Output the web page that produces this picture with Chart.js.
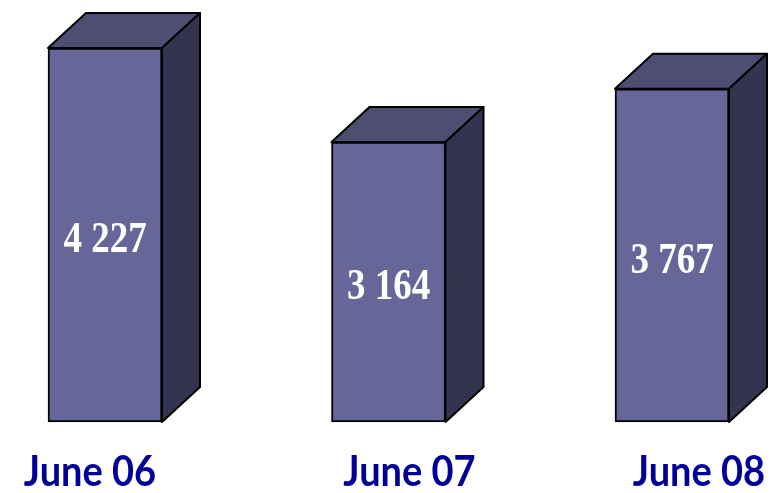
<!DOCTYPE html>
<html>
<head>
<meta charset="utf-8">
<script src="https://cdn.jsdelivr.net/npm/chart.js@4.4.1/dist/chart.umd.min.js"></script>
<style>
  html, body { margin: 0; padding: 0; background: #ffffff; }
  #wrap { width: 774px; height: 493px; position: relative; }
</style>
</head>
<body>
<div id="wrap"><canvas id="chart"></canvas></div>
<script>
// data
const months = ["June 06", "June 07", "June 08"];
const counts = [4227, 3164, 3767];
const countLabels = ["4 227", "3 164", "3 767"];

// 3D look
const FRONT = "#666699";
const TOP = "#4e4e72";
const SIDE = "#343451";
const DEPTH_X = 38;
const DEPTH_Y = 35;
// month captions are not quite centred under the boxes in the original
const captionShift = [-15, 21, 27];

const boxPlugin = {
  id: "box3d",
  afterDatasetsDraw(chart) {
    const ctx = chart.ctx;
    const meta = chart.getDatasetMeta(0);
    const xScale = chart.scales.x;
    ctx.save();
    ctx.lineWidth = 2;
    ctx.strokeStyle = "#000000";
    ctx.lineJoin = "round";
    meta.data.forEach((bar, i) => {
      const left = bar.x - bar.width / 2;
      const right = bar.x + bar.width / 2;
      const top = bar.y;
      const base = bar.base;

      // top face
      ctx.beginPath();
      ctx.moveTo(left, top);
      ctx.lineTo(left + DEPTH_X, top - DEPTH_Y);
      ctx.lineTo(right + DEPTH_X, top - DEPTH_Y);
      ctx.lineTo(right, top);
      ctx.closePath();
      ctx.fillStyle = TOP;
      ctx.fill();
      ctx.stroke();

      // side face
      ctx.beginPath();
      ctx.moveTo(right, top);
      ctx.lineTo(right + DEPTH_X, top - DEPTH_Y);
      ctx.lineTo(right + DEPTH_X, base - DEPTH_Y);
      ctx.lineTo(right, base);
      ctx.closePath();
      ctx.fillStyle = SIDE;
      ctx.fill();
      ctx.stroke();

      // value label, slightly tall serif
      ctx.save();
      ctx.translate(bar.x, (top + base) / 2 + 6);
      ctx.scale(1, 1.18);
      ctx.fillStyle = "#ffffff";
      ctx.font = "bold 37px 'Liberation Serif', 'DejaVu Serif', serif";
      ctx.textAlign = "center";
      ctx.textBaseline = "middle";
      ctx.fillText(countLabels[i], 0, 0);
      ctx.restore();

      // month caption under the box
      ctx.save();
      ctx.translate(xScale.getPixelForValue(i) + captionShift[i], base + 64);
      ctx.scale(1, 1.12);
      ctx.fillStyle = "#000099";
      ctx.font = "bold 38px Lato, 'Open Sans', sans-serif";
      ctx.textAlign = "center";
      ctx.textBaseline = "alphabetic";
      ctx.fillText(months[i], 0, 0);
      ctx.restore();
    });
    ctx.restore();
  }
};

new Chart(document.getElementById("chart"), {
  type: "bar",
  data: {
    labels: months,
    datasets: [{
      data: counts,
      backgroundColor: FRONT,
      borderColor: "#000000",
      borderWidth: 2,
      borderSkipped: false,
      barThickness: 114,
      clip: false
    }]
  },
  options: {
    responsive: true,
    maintainAspectRatio: false,
    animation: false,
    layout: { padding: { left: 105, right: 102, top: 0, bottom: 71 } },
    plugins: {
      legend: { display: false },
      tooltip: { enabled: false }
    },
    scales: {
      x: {
        offset: false,
        grid: { display: false, drawTicks: false },
        border: { display: false },
        ticks: { display: false }
      },
      y: {
        display: false,
        min: 0,
        max: 4770
      }
    }
  },
  plugins: [boxPlugin]
});
</script>
</body>
</html>
